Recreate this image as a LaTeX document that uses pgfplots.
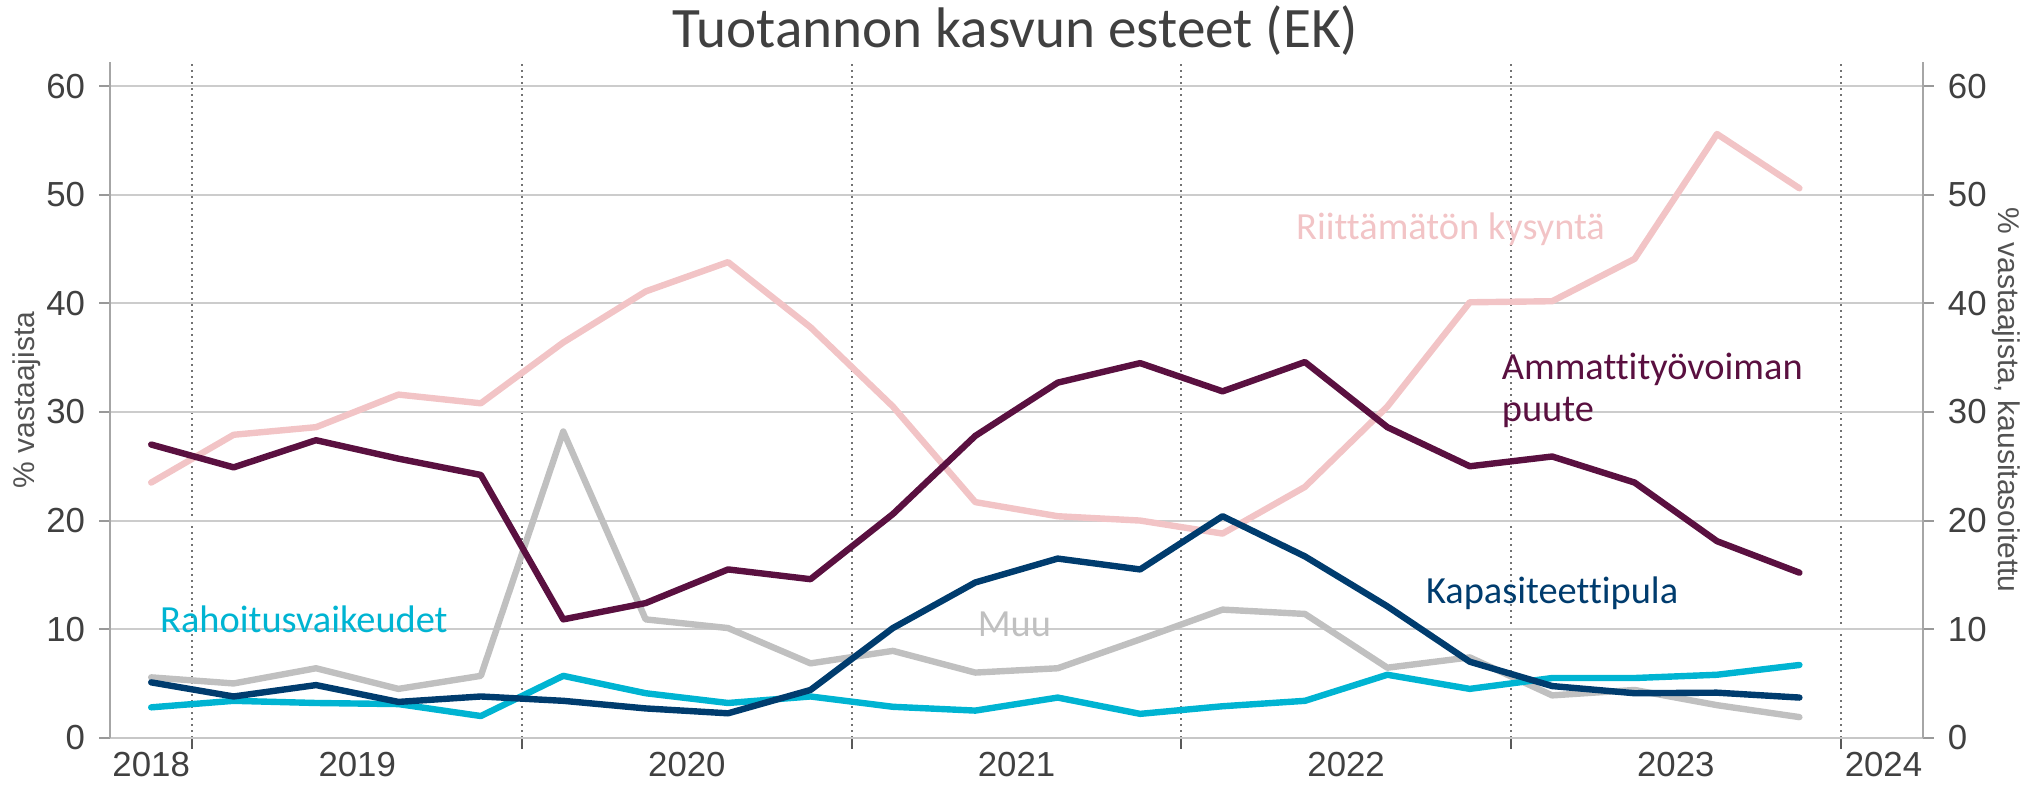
\documentclass[border=0pt]{standalone}
\usepackage{pgfplots}
\pgfplotsset{compat=1.18}
\usepackage{fontspec}
\setmainfont{Liberation Sans}
\newfontfamily\carlito{Carlito}[Ligatures={NoCommon}]
\definecolor{cpink}{RGB}{242,196,198}
\definecolor{cpurple}{RGB}{90,16,64}
\definecolor{cblue}{RGB}{0,60,110}
\definecolor{cgray}{RGB}{192,192,192}
\definecolor{ccyan}{RGB}{0,180,210}
\definecolor{ctick}{RGB}{64,64,64}
\definecolor{ctitle}{RGB}{64,64,64}

\pgfplotstableread{
x        kys   amm   kap   muu   rah
2018.875 23.5  27.0  5.1   5.56  2.8
2019.125 27.9  24.9  3.8   5.0   3.4
2019.375 28.6  27.4  4.85  6.4   3.2
2019.625 31.6  25.7  3.3   4.5   3.1
2019.875 30.8  24.2  3.8   5.7   2.0
2020.125 36.4  10.9  3.4   28.2  5.7
2020.375 41.1  12.4  2.7   10.9  4.1
2020.625 43.8  15.5  2.25  10.1  3.2
2020.875 37.8  14.6  4.4   6.85  3.8
2021.125 30.5  20.6  10.1  8.0   2.85
2021.375 21.7  27.8  14.3  6.0   2.5
2021.625 20.4  32.7  16.5  6.4   3.7
2021.875 20.0  34.5  15.5  9.06  2.2
2022.125 18.8  31.9  20.4  11.8  2.9
2022.375 23.1  34.6  16.7  11.4  3.4
2022.625 30.5  28.6  12.1  6.45  5.8
2022.875 40.1  25.0  7.0   7.4   4.5
2023.125 40.2  25.9  4.76  3.9   5.5
2023.375 44.1  23.5  4.1   4.4   5.5
2023.625 55.6  18.1  4.15  3.0   5.8
2023.875 50.6  15.2  3.7   1.9   6.7
}\datatable

\begin{document}
\begin{tikzpicture}
\pgfplotsset{
  base/.style={
    width=453.25pt, height=168.85pt, scale only axis,
    xmin=2018.75, xmax=2024.25, ymin=0, ymax=62.2,
    ytick={0,10,...,60},
    tick align=outside, major tick length=2.7pt,
    /pgf/number format/assume math mode=true,
    tick label style={font=\fontsize{8.7}{10}\selectfont, text=ctick},
    clip=false,
  },
  serie/.style={line width=1.6pt, line join=round, line cap=round},
}
\begin{axis}[base,
  axis x line*=bottom, axis y line*=left,
  x axis line style={-, draw=black!22, line width=0.6pt},
  y axis line style={-, draw=black!35, line width=0.5pt},
  xtick={2019,2020,2021,2022,2023,2024}, xticklabels={},
  extra x ticks={2018.875,2019.5,2020.5,2021.5,2022.5,2023.5,2024.13},
  extra x tick labels={2018,2019,2020,2021,2022,2023,2024},
  extra x tick style={grid=none, major tick length=0pt},
  xmajorgrids, ymajorgrids,
  x grid style={draw=black!55, line width=0.5pt, dash pattern=on 0.45pt off 1.05pt},
  y grid style={draw=black!20, line width=0.5pt},
  xtick style={draw=black!65, line width=0.5pt},
  ytick style={draw=black!40, line width=0.5pt},
]
\addplot[cpink, serie] table[x=x, y=kys] {\datatable};
\addplot[cgray, serie] table[x=x, y=muu] {\datatable};
\addplot[ccyan, serie] table[x=x, y=rah] {\datatable};
\addplot[cpurple, serie] table[x=x, y=amm] {\datatable};
\addplot[cblue, serie] table[x=x, y=kap] {\datatable};

\node[anchor=base west, text=cpink, font=\carlito\fontsize{9.6}{11}\selectfont, inner sep=0pt] at (axis cs:2022.346,45.9) {Riittämätön kysyntä};
\node[anchor=base west, text=cpurple, font=\carlito\fontsize{9.6}{11}\selectfont, inner sep=0pt] at (axis cs:2022.97,33.03) {Ammattityövoiman};
\node[anchor=base west, text=cpurple, font=\carlito\fontsize{9.6}{11}\selectfont, inner sep=0pt] at (axis cs:2022.97,29.1) {puute};
\node[anchor=base west, text=cblue, font=\carlito\fontsize{9.6}{11}\selectfont, inner sep=0pt] at (axis cs:2022.74,12.38) {Kapasiteettipula};
\node[anchor=base west, text=cgray, font=\carlito\fontsize{9.6}{11}\selectfont, inner sep=0pt] at (axis cs:2021.38,9.3) {Muu};
\node[anchor=base west, text=ccyan, font=\carlito\fontsize{9.6}{11}\selectfont, inner sep=0pt] at (axis cs:2018.90,9.67) {Rahoitusvaikeudet};

\node[anchor=base, text=ctitle, font=\carlito\fontsize{14.3}{16}\selectfont, inner sep=0pt] at (axis cs:2021.496,63.6) {Tuotannon kasvun esteet (EK)};

\node[rotate=90, text=black!68, font=\fontsize{7.5}{9}\selectfont, inner sep=0pt] at ([xshift=-20.75pt]rel axis cs:0,0.5) {\% vastaajista};
\node[rotate=-90, text=black!68, font=\fontsize{7.5}{9}\selectfont, inner sep=0pt] at ([xshift=20.75pt]rel axis cs:1,0.5) {\% vastaajista, kausitasoitettu};

\coordinate (SW) at (rel axis cs:0,0);
\coordinate (NE) at (rel axis cs:1,1);
\end{axis}
\begin{axis}[base,
  axis x line=none, axis y line*=right,
  y axis line style={-, draw=black!35, line width=0.5pt},
  ytick style={draw=black!40, line width=0.5pt},
]
\addplot[draw=none] coordinates {(2019,0)};
\end{axis}
\pgfresetboundingbox
\path[use as bounding box] ([xshift=-27.5pt,yshift=-13.075pt]SW) rectangle ([xshift=28pt,yshift=15.575pt]NE);
\end{tikzpicture}
\end{document}
